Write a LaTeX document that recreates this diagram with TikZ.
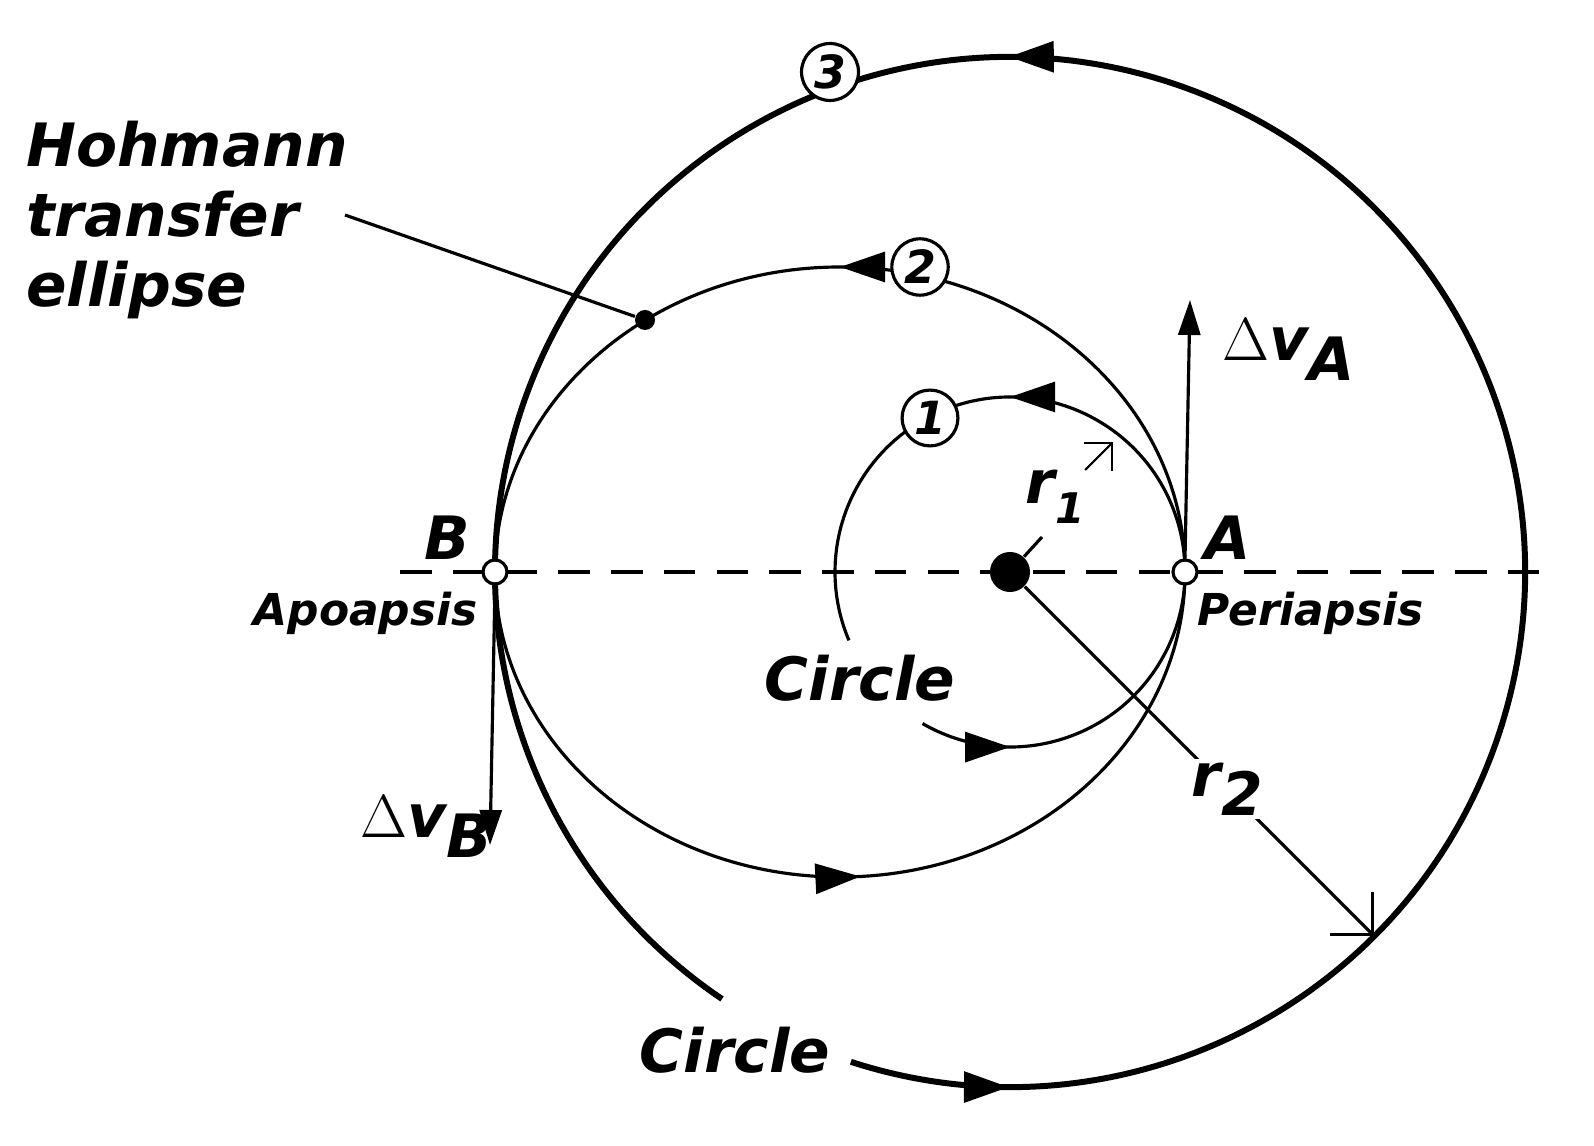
\documentclass[tikz,border=0pt]{standalone}
\usepackage{fontspec}
\setmainfont{DejaVu Sans}
\usetikzlibrary{arrows.meta,decorations.markings,calc}
\begin{document}
\begin{tikzpicture}[x=0.01cm,y=0.01cm,
  thin line/.style={line width=0.9pt},
  thick line/.style={line width=1.7pt},
  big tip/.tip={Triangle[length=4.5mm,width=3mm]},
  lbl/.style={font=\bfseries\itshape\fontsize{17}{20}\selectfont, inner sep=1pt},
  small lbl/.style={font=\bfseries\itshape\fontsize{12.5}{14}\selectfont, inner sep=1pt},
  num/.style={circle, draw, line width=0.9pt, fill=white, inner sep=1pt, minimum size=0.44cm, font=\bfseries\itshape\fontsize{13}{14}\selectfont},
]
\useasboundingbox (0,0) rectangle (1594,1145);
\coordinate (C) at (1010,573);
\coordinate (Ecen) at (840,573);
% dashed axis
\draw[thin line, dash pattern=on 9pt off 6pt] (400,573) -- (1555,573);
% inner circle
\draw[thin line, postaction={decorate, decoration={markings,
   mark=at position 0.093 with {\arrow{big tip}},
   mark=at position 0.65 with {\arrow{big tip}}}}]
   ($(C)+(240:175)$) arc[start angle=240, end angle=563, radius=175];
% ellipse
\draw[thin line, postaction={decorate, decoration={markings,
   mark=at position 0.25 with {\arrow{big tip}},
   mark=at position 0.76 with {\arrow{big tip}}}}]
   ($(Ecen)+(345,0)$) arc[start angle=0, end angle=360, x radius=345, y radius=305];
% outer circle
\draw[thick line, postaction={decorate, decoration={markings,
   mark=at position 0.052 with {\arrow{big tip}},
   mark=at position 0.576 with {\arrow{big tip}}}}]
   ($(C)+(252:515)$) arc[start angle=252, end angle=596, radius=515];
% planet and points
\node[circle, fill, minimum size=0.4cm, inner sep=0] (P) at (C) {};
\node[circle, draw, fill=white, thin line, minimum size=0.24cm, inner sep=0] (A) at (1185,573) {};
\node[circle, draw, fill=white, thin line, minimum size=0.24cm, inner sep=0] (B) at (495,573) {};
\node[circle, fill, minimum size=0.2cm, inner sep=0] (dot) at (645,825) {};
% delta v
\coordinate (dvA) at (1190,845);
\coordinate (dvB) at (490,300);
\draw[thin line, -{Triangle[length=3.5mm,width=2.2mm]}] (A.north) -- (dvA);
\draw[thin line, -{Triangle[length=3.5mm,width=2.2mm]}] (B.south) -- (dvB);
\node[lbl, anchor=west] (lA) at (1218,795) {$\Delta$v\raisebox{-0.6ex}{A}};
\node[lbl, anchor=west] (lB) at (356,318) {$\Delta$v\raisebox{-0.6ex}{B}};
% labels
\node[lbl, align=left, anchor=west] (hoh) at (22,925) {Hohmann\\transfer\\ellipse};
\coordinate (hohend) at (345,930);
\draw[thin line] (hohend) -- (dot);
\node[lbl] (nB) at (447,607) {B};
\node[lbl] (nA) at (1228,607) {A};
\node[small lbl, anchor=east] (apo) at (482,532) {Apoapsis};
\node[small lbl, anchor=west] (peri) at (1193,532) {Periapsis};
\node[lbl] (c1) at (860,467) {Circle};
\node[lbl] (c2) at (735,95) {Circle};
\node[num] (n1) at (930,727) {1};
\node[num] (n2) at (920,878) {2};
\node[num] (n3) at (830,1073) {3};
% r1
\node[lbl] (r1) at (1055,648) {r\raisebox{-0.6ex}{\fontsize{12}{12}\selectfont 1}};
\draw[thin line] (P) -- (1042,608);
\coordinate (r1a) at (1085,675);
\coordinate (r1b) at (1113,703);
\draw[line width=0.6pt, -{Straight Barb[length=2mm]}] (r1a) -- (r1b);
% r2
\coordinate (r2end) at ($(C)+(-45:515)$);
\draw[thin line, -{Straight Barb[length=3mm]}] (P) -- (r2end)
   node[pos=0.58, fill=white, lbl] (r2) {r\raisebox{-0.6ex}{2}};
\end{tikzpicture}
\end{document}
